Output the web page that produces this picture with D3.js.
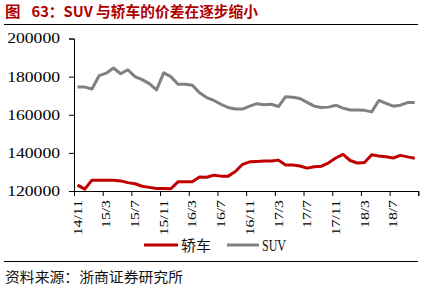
<!DOCTYPE html>
<html><head><meta charset="utf-8">
<script src="https://cdn.jsdelivr.net/npm/d3@7/dist/d3.min.js"></script>
<style>html,body{margin:0;padding:0;background:#fff;}svg{display:block;}</style>
</head><body><svg id="c" width="428" height="288"></svg>
<script>
const months = ["14/11","14/12","15/1","15/2","15/3","15/4","15/5","15/6","15/7","15/8","15/9","15/10",
"15/11","15/12","16/1","16/2","16/3","16/4","16/5","16/6","16/7","16/8","16/9","16/10",
"16/11","16/12","17/1","17/2","17/3","17/4","17/5","17/6","17/7","17/8","17/9","17/10",
"17/11","17/12","18/1","18/2","18/3","18/4","18/5","18/6","18/7","18/8","18/9","18/10"];
const sedan = [123100,121000,125700,125700,125700,125700,125300,124400,123800,122500,121900,121300,
121300,121200,124800,124900,124900,127300,127200,128300,127800,127800,130200,134000,
135300,135500,135700,135700,136200,133600,133600,133100,132000,132700,133000,134800,
137300,139200,136000,134700,135000,139000,138400,138000,137300,138700,137900,137200];
const suv = [174500,174500,173500,180500,181800,184500,181500,183600,180000,178400,176300,173000,
182000,180000,176000,176000,175500,171500,169000,167500,165500,163800,163000,163000,
164500,165800,165300,165500,164300,169500,169200,168500,166500,164500,163800,164000,
165000,163500,162500,162500,162300,161500,167500,166000,164500,165000,166400,166400];
const yTicks = [120000,140000,160000,180000,200000];
const tickLabels = months.filter((d,i)=>i%4===0);

const svg = d3.select("#c");
const L=74, R=418.3, T=38.5, B=191;
const x = d3.scaleBand().domain(months).range([L,R]).paddingInner(0).paddingOuter(0);
const xi = d3.scaleLinear().domain([0,months.length]).range([L,R]);
const y = d3.scaleLinear().domain([120000,200000]).range([B,T]);

// Title
svg.append("text").attr("x",5).attr("y",17).text("图")
  .attr("font-family","Noto Sans CJK SC").attr("font-weight","bold").attr("font-size",14.5).attr("fill","#b00000")
  .attr("textLength",15.5).attr("lengthAdjust","spacingAndGlyphs");
svg.append("text").attr("x",31.5).attr("y",17).text("63：SUV 与轿车的价差在逐步缩小")
  .attr("font-family","Noto Sans CJK SC").attr("font-weight","bold").attr("font-size",14.5).attr("fill","#b00000")
  .attr("textLength",226.5).attr("lengthAdjust","spacingAndGlyphs");
svg.append("line").attr("x1",4).attr("x2",418).attr("y1",24.5).attr("y2",24.5).attr("stroke","#000").attr("stroke-width",1.2);
svg.append("line").attr("x1",4).attr("x2",418).attr("y1",261.5).attr("y2",261.5).attr("stroke","#000").attr("stroke-width",1.2);
svg.append("text").attr("x",5).attr("y",282).text("资料来源：浙商证券研究所")
  .attr("font-family","Noto Sans CJK SC").attr("font-size",14).attr("fill","#111")
  .attr("textLength",178).attr("lengthAdjust","spacingAndGlyphs");

// Y axis
const ya = svg.append("g").attr("transform",`translate(${L},0)`)
  .call(d3.axisLeft(y).tickValues(yTicks).tickSize(5).tickPadding(9).tickFormat(d3.format("d")));
ya.select(".domain").attr("stroke","#000");
ya.selectAll(".tick line").attr("stroke","#000");
ya.selectAll("text").attr("font-family","Liberation Serif").attr("font-size",14).attr("fill","#000")
  .each(function(){ const t=d3.select(this); const xx=+t.attr("x");
    t.attr("transform",`translate(${xx},0) scale(1.26,1) translate(${-xx},0)`); });

// X axis ticks at category boundaries
const xa = svg.append("g").attr("transform",`translate(0,${B})`)
  .call(d3.axisBottom(xi).tickValues(d3.range(0,months.length+1,4)).tickSize(5).tickFormat(""));
xa.select(".domain").attr("stroke","#000");
xa.selectAll(".tick line").attr("stroke","#000");
// X labels at category centres
const xl = svg.append("g").attr("transform",`translate(0,${B})`)
  .call(d3.axisBottom(x).tickValues(tickLabels).tickSize(0));
xl.select(".domain").remove();
xl.selectAll("text").attr("font-family","Liberation Serif").attr("font-size",12.5).attr("fill","#000")
  .attr("text-anchor","end").attr("x",0).attr("y",0).attr("dy","0.33em")
  .attr("transform","translate(0,9) rotate(-90) scale(1.26,1)");

// Lines
const line = d3.line().x((d,i)=>x(months[i])+x.bandwidth()/2).y(d=>y(d));
svg.append("path").datum(suv).attr("d",line).attr("fill","none").attr("stroke","#808080").attr("stroke-width",3).attr("stroke-linejoin","round");
svg.append("path").datum(sedan).attr("d",line).attr("fill","none").attr("stroke","#c00000").attr("stroke-width",3).attr("stroke-linejoin","round");

// Legend
const leg = svg.append("g");
leg.append("line").attr("x1",144).attr("x2",178).attr("y1",245).attr("y2",245).attr("stroke","#c00000").attr("stroke-width",3);
leg.append("text").attr("x",181).attr("y",251).text("轿车").attr("font-family","Noto Sans CJK SC").attr("font-size",15).attr("fill","#111");
leg.append("line").attr("x1",227).attr("x2",259).attr("y1",245).attr("y2",245).attr("stroke","#808080").attr("stroke-width",3);
leg.append("text").attr("x",262).attr("y",251).text("SUV").attr("font-family","Liberation Serif").attr("font-size",16).attr("fill","#111")
  .attr("textLength",24).attr("lengthAdjust","spacingAndGlyphs");
</script></body></html>
